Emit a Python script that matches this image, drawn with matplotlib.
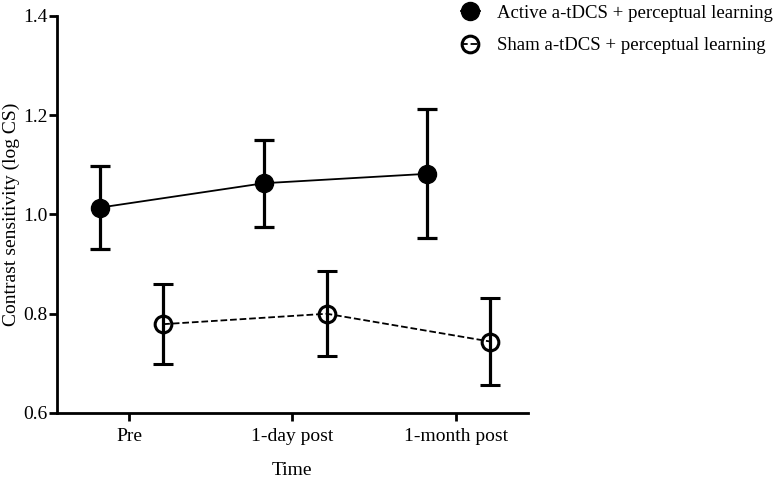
import matplotlib
matplotlib.use("Agg")
import matplotlib.pyplot as plt
import numpy as np

# data
timepoints = ["Pre", "1-day post", "1-month post"]
active_mean = [1.014, 1.063, 1.082]
active_err = [0.083, 0.088, 0.130]
sham_mean = [0.779, 0.800, 0.744]
sham_err = [0.081, 0.086, 0.088]

plt.rcParams["font.family"] = ["Liberation Serif", "DejaVu Serif"]

fig = plt.figure(figsize=(7.75, 4.79), dpi=100)
ax = fig.add_axes([0.0735, 0.1378, 0.6075, 0.8288])

x = np.arange(len(timepoints))

ax.errorbar(x - 0.175, active_mean, yerr=active_err, fmt="o-", color="black",
            markersize=13, lw=1.3, elinewidth=2.3, capsize=7.5, capthick=2.3,
            label="Active a-tDCS + perceptual learning", zorder=3)
ax.errorbar(x + 0.21, sham_mean, yerr=sham_err, fmt="o--", color="black",
            markerfacecolor="none", markeredgewidth=2.2, markersize=12,
            lw=1.3, elinewidth=2.3, capsize=7.5, capthick=2.3,
            label="Sham a-tDCS + perceptual learning", zorder=3)

ax.set_xlim(-0.44, 2.44)
ax.set_ylim(0.6, 1.4)
ax.set_xticks(x)
ax.set_xticklabels(timepoints)
ax.set_yticks([0.6, 0.8, 1.0, 1.2, 1.4])
ax.set_yticklabels(["0.6", "0.8", "1.0", "1.2", "1.4"])

for s in ["top", "right"]:
    ax.spines[s].set_visible(False)
for s in ["left", "bottom"]:
    ax.spines[s].set_linewidth(2.0)
ax.tick_params(axis="both", width=2.0, length=6, labelsize=14)
ax.tick_params(axis="y", pad=1)
ax.tick_params(axis="x", pad=5)

ax.set_xlabel("Time", fontsize=14, labelpad=12)
ax.set_ylabel("Contrast sensitivity (log CS)", fontsize=14, labelpad=2)

handles, labels = ax.get_legend_handles_labels()
handles = [h[0] for h in handles]
fig.legend(handles, labels, loc="upper left", bbox_to_anchor=(0.573, 1.025),
           frameon=False, fontsize=13.5, handlelength=1.0, handletextpad=0.9,
           labelspacing=0.8)

fig.savefig("out.png", dpi=100, facecolor="white")
